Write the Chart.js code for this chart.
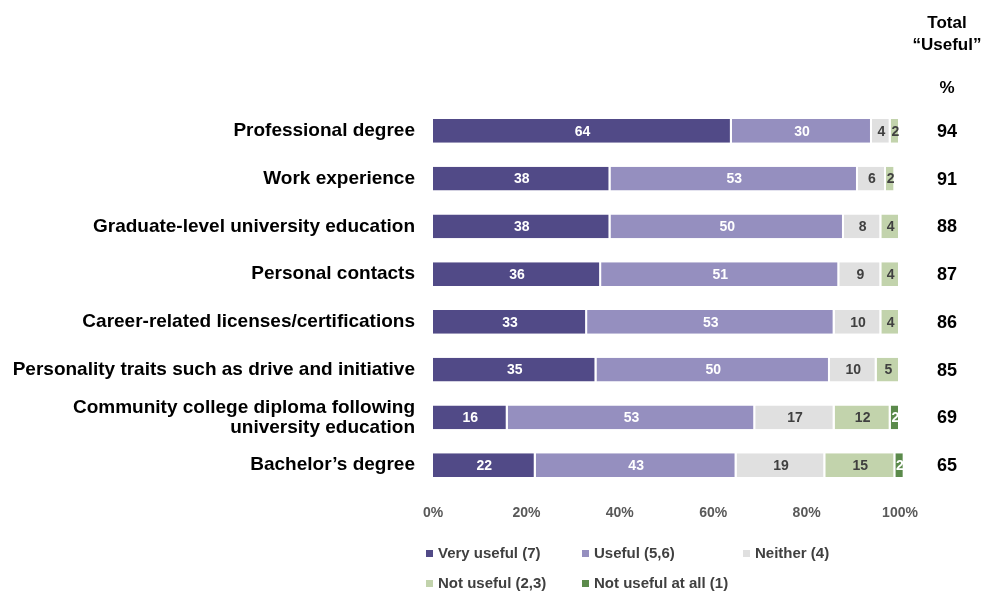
<!DOCTYPE html>
<html>
<head>
<meta charset="utf-8">
<script src="https://cdn.jsdelivr.net/npm/chart.js@4.4.1/dist/chart.umd.min.js"></script>
<style>
  body { margin: 0; background: #fff; }
  canvas { display: block; }
</style>
</head>
<body>
<canvas id="chart" width="985" height="591"></canvas>
<script>
// Categories and stacked shares (%)
const categories = [
  'Professional degree',
  'Work experience',
  'Graduate-level university education',
  'Personal contacts',
  'Career-related licenses/certifications',
  'Personality traits such as drive and initiative',
  ['Community college diploma following', 'university education'],
  'Bachelor\u2019s degree'
];
const veryUseful = [64, 38, 38, 36, 33, 35, 16, 22];
const useful = [30, 53, 50, 51, 53, 50, 53, 43];
const neither = [4, 6, 8, 9, 10, 10, 17, 19];
const notUseful = [2, 2, 4, 4, 4, 5, 12, 15];
const notUsefulAtAll = [0, 0, 0, 0, 0, 0, 2, 2];
const totalUseful = [94, 91, 88, 87, 86, 85, 69, 65];
const xTickStep = 20;

const seriesNames = ['Very useful (7)', 'Useful (5,6)', 'Neither (4)', 'Not useful (2,3)', 'Not useful at all (1)'];
const seriesColours = ['#514a87', '#958fbf', '#e0e0e0', '#c2d3ac', '#5b8a4b'];
const labelColours = ['#ffffff', '#ffffff', '#404040', '#404040', '#ffffff'];
const FONT = '"Liberation Sans", Arial, Helvetica, sans-serif';

const seriesData = [veryUseful, useful, neither, notUseful, notUsefulAtAll];

// Value labels centred on each segment
const segmentLabels = {
  id: 'segmentLabels',
  afterDatasetsDraw(chart) {
    const ctx = chart.ctx;
    ctx.save();
    ctx.font = 'bold 14px ' + FONT;
    ctx.textAlign = 'center';
    ctx.textBaseline = 'middle';
    chart.data.datasets.forEach((ds, di) => {
      const meta = chart.getDatasetMeta(di);
      meta.data.forEach((bar, i) => {
        const v = ds.data[i];
        if (!v) return;
        ctx.fillStyle = labelColours[di];
        ctx.fillText(String(v), (bar.x + bar.base) / 2, bar.y + 1);
      });
    });
    ctx.restore();
  }
};

// Total "Useful" column on the right
const totalsColumn = {
  id: 'totalsColumn',
  afterDraw(chart) {
    const ctx = chart.ctx;
    const yScale = chart.scales.y;
    const cx = 947;
    ctx.save();
    ctx.fillStyle = '#000';
    ctx.font = 'bold 17px ' + FONT;
    ctx.textAlign = 'center';
    ctx.textBaseline = 'middle';
    ctx.fillText('Total', cx, 23);
    ctx.fillText('\u201cUseful\u201d', cx, 45);
    ctx.fillText('%', cx, 88);
    ctx.font = 'bold 18px ' + FONT;
    totalUseful.forEach((t, i) => {
      ctx.fillText(String(t), cx, yScale.getPixelForValue(i) + 1);
    });
    ctx.restore();
  }
};

// Two-row legend under the axis
const bottomLegend = {
  id: 'bottomLegend',
  afterDraw(chart) {
    const ctx = chart.ctx;
    const slots = [
      [426, 553], [582, 553], [743, 553],
      [426, 583], [582, 583]
    ];
    ctx.save();
    ctx.font = 'bold 15px ' + FONT;
    ctx.textAlign = 'left';
    ctx.textBaseline = 'middle';
    seriesNames.forEach((name, i) => {
      const [x, y] = slots[i];
      ctx.fillStyle = seriesColours[i];
      ctx.fillRect(x, y - 3, 7, 7);
      ctx.fillStyle = '#404040';
      ctx.fillText(name, x + 12, y + 1);
    });
    ctx.restore();
  }
};

new Chart(document.getElementById('chart'), {
  type: 'bar',
  data: {
    labels: categories,
    datasets: seriesData.map((d, i) => ({
      label: seriesNames[i],
      data: d,
      backgroundColor: seriesColours[i],
      borderColor: '#ffffff',
      borderWidth: { left: 0, right: 2, top: 0, bottom: 0 },
      borderSkipped: false,
      clip: false
    }))
  },
  options: {
    indexAxis: 'y',
    responsive: false,
    animation: false,
    layout: { padding: { top: 107, right: 85, bottom: 72, left: 0 } },
    datasets: { bar: { categoryPercentage: 1, barPercentage: 0.5 } },
    plugins: {
      legend: { display: false },
      tooltip: { enabled: false }
    },
    scales: {
      x: {
        stacked: true,
        min: 0,
        max: 100,
        grid: { display: false, drawTicks: false },
        border: { display: false },
        afterFit(scale) { scale.height = 30; },
        ticks: {
          stepSize: xTickStep,
          padding: 16,
          color: '#595959',
          font: { family: FONT, size: 14, weight: 'bold' },
          callback: v => v + '%'
        }
      },
      y: {
        stacked: true,
        grid: { display: false, drawTicks: false },
        border: { display: false },
        afterFit(scale) { scale.width = 433; },
        ticks: {
          padding: 18,
          color: '#000',
          font: { family: FONT, size: 19, weight: 'bold', lineHeight: 1.05 }
        }
      }
    }
  },
  plugins: [segmentLabels, totalsColumn, bottomLegend]
});
</script>
</body>
</html>
